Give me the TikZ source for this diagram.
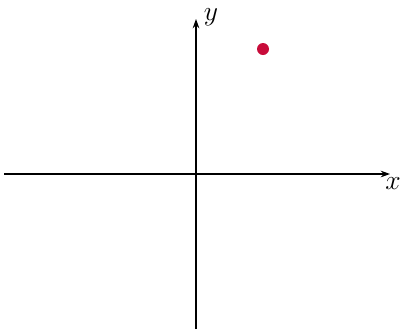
\documentclass[tikz,border=0pt]{standalone}
\usepackage{tikz}
\usetikzlibrary{arrows.meta}
\definecolor{dotred}{RGB}{200,12,58}

\begin{document}
\begin{tikzpicture}[
  x=0.75pt, y=-0.75pt,
  axis/.style = {-{Stealth[length=7pt,width=5pt]}, line width=0.9pt},
  lbl/.style  = {font=\huge, inner sep=0pt}
]
  \useasboundingbox (0,0) rectangle (400,329);

  % axes
  \coordinate (xmin) at (4,174);
  \coordinate (xmax) at (390,174);
  \coordinate (ymin) at (196,329);
  \coordinate (ymax) at (196,19);

  \draw[axis] (xmin) -- (xmax);
  \draw[axis] (ymin) -- (ymax);

  % labels
  \node[lbl] (xlab) at (393,184) {$x$};
  \node[lbl] (ylab) at (211,17) {$y$};

  % point
  \fill[dotred] (263,49) circle (6);

\end{tikzpicture}
\end{document}
